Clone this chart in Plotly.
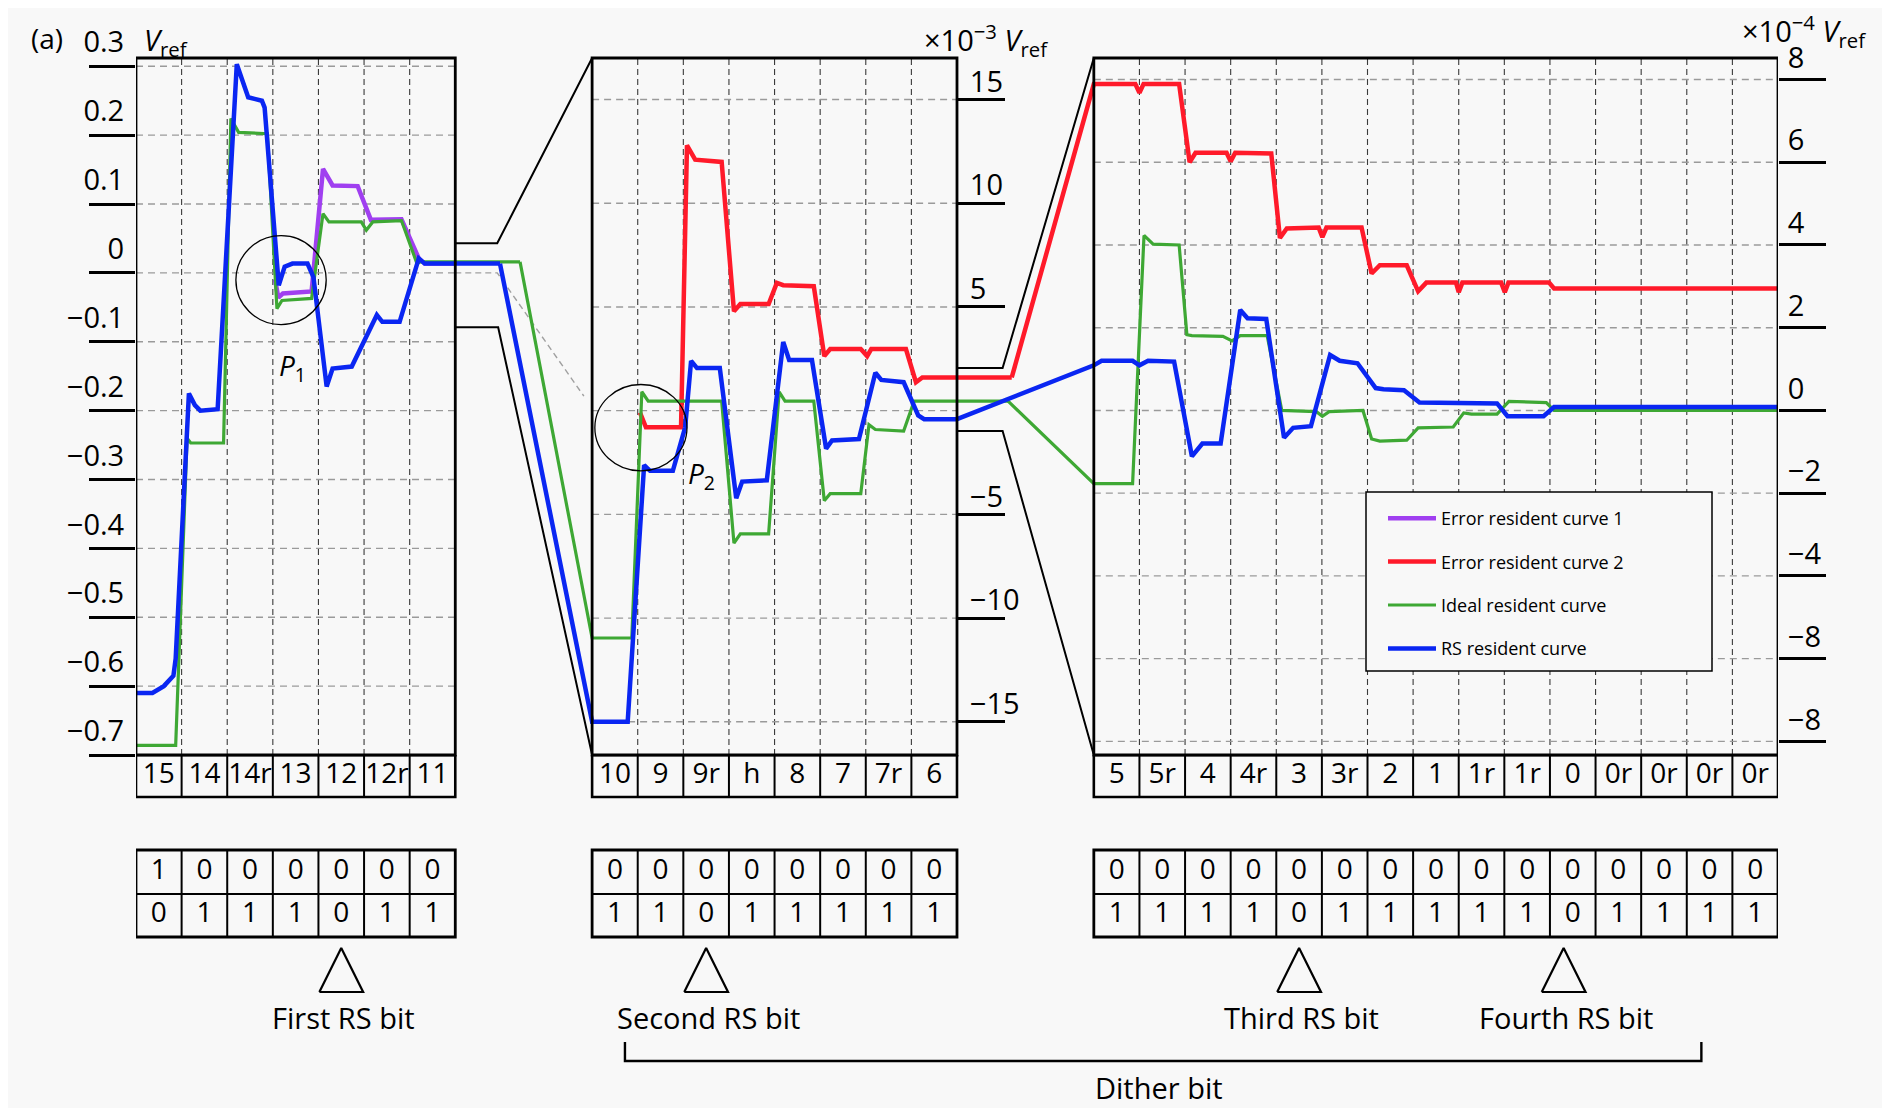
import plotly.graph_objects as go

# the page adds an 8 px body margin, so the figure is 8 px smaller and all
# page positions below are shifted by that amount
OFF = 8
W, H = 1890 - OFF, 1108 - OFF
FONT = "Open Sans, Noto Sans, sans-serif"

# ---------------- data ----------------
# column labels under the three panels (x axis is in "column" units)
p1_labels = ['15', '14', '14r', '13', '12', '12r', '11']
p2_labels = ['10', '9', '9r', 'h', '8', '7', '7r', '6']
p3_labels = ['5', '5r', '4', '4r', '3', '3r', '2', '1', '1r', '1r', '0', '0r', '0r', '0r', '0r']
panel_start = [0, 10, 21]

# P / N rows of table (b)
p_bits = [[1, 0, 0, 0, 0, 0, 0],
          [0, 0, 0, 0, 0, 0, 0, 0],
          [0, 0, 0, 0, 0, 0, 0, 0, 0, 0, 0, 0, 0, 0, 0]]
n_bits = [[0, 1, 1, 1, 0, 1, 1],
          [1, 1, 0, 1, 1, 1, 1, 1],
          [1, 1, 1, 1, 0, 1, 1, 1, 1, 1, 0, 1, 1, 1, 1]]

rs_bit_cols = [4.5, 12.5, 25.5, 31.3]
rs_bit_names = ['First RS bit', 'Second RS bit', 'Third RS bit', 'Fourth RS bit']

# y ranges of the panels: Vref, x1e-3 Vref, x1e-4 Vref
r1 = [-0.70, 0.312]
r2 = [-16.6, 17.0]
r3 = [-8.33, 8.52]

p1_ticks = [0.3, 0.2, 0.1, 0, -0.1, -0.2, -0.3, -0.4, -0.5, -0.6, -0.7]
p1_ticktext = ['0.3', '0.2', '0.1', '0', '\u22120.1', '\u22120.2', '\u22120.3', '\u22120.4', '\u22120.5', '\u22120.6', '\u22120.7']
p2_ticks = [15, 10, 5, -5, -10, -15]
p2_ticktext = ['15', '10', '5', '\u22125', '\u221210', '\u221215']
p2_grid = [15, 10, 5, 0, -5, -10, -15]
p3_ticks = [8, 6, 4, 2, 0, -2, -4, -6, -8]
p3_ticktext = ['8', '6', '4', '2', '0', '\u22122', '\u22124', '\u22128', '\u22128']

# panel 1 curves (Vref)
blue_p1_x = [0, 0.36, 0.61, 0.82, 0.87, 1.16, 1.29, 1.41, 1.79, 2.21, 2.46, 2.76, 2.82, 3.13, 3.26, 3.43, 3.76, 3.89, 4.18, 4.31, 4.73, 5.28, 5.40, 5.78, 6.20, 6.33, 7.0, 7.98]
blue_p1_y = [-0.61, -0.61, -0.60, -0.585, -0.56, -0.175, -0.192, -0.20, -0.198, 0.303, 0.255, 0.250, 0.240, -0.018, 0.009, 0.0135, 0.0135, -0.006, -0.165, -0.139, -0.136, -0.061, -0.071, -0.071, 0.021, 0.0135, 0.0135, 0.0135]
green_p1_x = [0, 0.87, 1.12, 1.20, 1.92, 2.08, 2.25, 2.88, 3.09, 3.20, 3.85, 4.10, 4.23, 4.94, 5.05, 5.19, 5.82, 6.16, 6.24, 7.0, 8.42]
green_p1_y = [-0.686, -0.686, -0.240, -0.247, -0.247, 0.224, 0.204, 0.202, -0.052, -0.040, -0.037, 0.086, 0.074, 0.074, 0.062, 0.074, 0.076, 0.0135, 0.016, 0.016, 0.016]
purple_p1_x = [3.05, 3.12, 3.22, 3.85, 4.10, 4.31, 4.86, 5.15, 5.82, 6.20, 6.33, 7.0]
purple_p1_y = [-0.01, -0.036, -0.030, -0.027, 0.151, 0.127, 0.126, 0.077, 0.078, 0.021, 0.0135, 0.0135]

# panel 2 curves (x1e-3 Vref)
blue_p2_x = [10.0, 10.78, 11.14, 11.27, 11.77, 12.04, 12.17, 12.30, 12.80, 13.16, 13.29, 13.83, 14.19, 14.32, 14.82, 15.13, 15.26, 15.85, 16.21, 16.34, 16.83, 17.15, 17.28, 18.0]
blue_p2_y = [-15.0, -15.0, -2.63, -2.9, -2.9, -0.8, 2.4, 2.05, 2.05, -4.22, -3.42, -3.36, 3.31, 2.44, 2.44, -1.83, -1.44, -1.37, 1.83, 1.48, 1.37, -0.23, -0.41, -0.41]
green_p2_x = [10.0, 10.87, 11.09, 11.23, 12.84, 13.11, 13.25, 13.87, 14.10, 14.23, 14.86, 15.09, 15.22, 15.89, 16.07, 16.21, 16.83, 17.06, 18.0, 19.12]
green_p2_y = [-10.96, -10.96, 0.91, 0.46, 0.46, -6.39, -5.94, -5.94, 0.91, 0.46, 0.46, -4.34, -4.0, -4.0, -0.68, -0.91, -0.98, 0.46, 0.46, 0.46]
red_p2_x = [11.05, 11.09, 11.18, 11.95, 12.08, 12.26, 12.84, 13.11, 13.25, 13.87, 14.05, 14.19, 14.86, 15.09, 15.22, 15.89, 16.03, 16.12, 16.88, 17.10, 17.24, 18.0, 19.2]
red_p2_y = [-0.1, -0.34, -0.8, -0.8, 12.79, 12.1, 11.99, 4.79, 5.14, 5.14, 6.16, 6.05, 6.0, 2.63, 2.97, 2.97, 2.63, 2.97, 2.97, 1.37, 1.6, 1.6, 1.6]

# panel 3 curves (x1e-4 Vref)
red_p3_x = [21.0, 21.91, 22.0, 22.09, 22.87, 23.10, 23.23, 23.91, 24.0, 24.10, 24.89, 25.08, 25.23, 25.93, 26.01, 26.10, 26.87, 27.09, 27.27, 27.86, 28.11, 28.29, 28.94, 29.0, 29.08, 29.93, 30.01, 30.09, 30.98, 31.09, 36.0]
red_p3_y = [7.89, 7.89, 7.68, 7.89, 7.89, 6.0, 6.23, 6.23, 6.02, 6.23, 6.21, 4.17, 4.40, 4.42, 4.19, 4.42, 4.42, 3.31, 3.51, 3.51, 2.88, 3.09, 3.09, 2.86, 3.09, 3.09, 2.86, 3.09, 3.09, 2.95, 2.95]
green_p3_x = [21.0, 21.85, 22.10, 22.30, 22.87, 23.04, 23.15, 23.83, 24.03, 24.21, 24.80, 25.12, 25.88, 26.01, 26.16, 26.90, 27.09, 27.27, 27.86, 28.11, 28.88, 29.11, 29.28, 29.84, 30.10, 30.92, 31.09, 36.0]
green_p3_y = [-1.77, -1.77, 4.23, 4.02, 4.0, 1.83, 1.81, 1.79, 1.68, 1.81, 1.81, 0.0, -0.03, -0.14, -0.03, 0.0, -0.69, -0.74, -0.72, -0.42, -0.40, -0.06, -0.09, -0.09, 0.22, 0.19, 0.0, 0.0]
blue_p3_x = [21.0, 21.17, 21.85, 22.0, 22.19, 22.76, 23.15, 23.38, 23.78, 24.21, 24.37, 24.78, 25.17, 25.37, 25.76, 26.18, 26.39, 26.78, 27.18, 27.35, 27.80, 28.14, 29.84, 30.07, 30.86, 31.09, 36.0]
blue_p3_y = [1.09, 1.2, 1.2, 1.09, 1.2, 1.18, -1.11, -0.8, -0.8, 2.43, 2.23, 2.21, -0.66, -0.42, -0.38, 1.34, 1.2, 1.14, 0.54, 0.51, 0.49, 0.19, 0.17, -0.14, -0.14, 0.08, 0.08]

PURPLE = '#a03ff0'
RED = '#ff1a2a'
GREEN = '#3ea834'
BLUE = '#0a26f2'
BG = '#f8f8f8'


def px(x):
    return (x - OFF) / W


def py(y):
    return 1 - (y - OFF) / H


def to_axis(v, src, dst):
    # same height on the page, expressed in another panel's units
    return dst[0] + (v - src[0]) * (dst[1] - dst[0]) / (src[1] - src[0])


# ---------------- geometry ----------------
x_dom = [px(136), px(1778)]
y_dom = [py(755), py(58)]
tab_dom = [0, py(755)]      # table axis: 1 unit = 1 px below the panels
panels = [(0, 7), (10, 18), (21, 36)]

fig = go.Figure()


def add_line(x, y, color, width, yaxis, name, show=False, rank=1):
    fig.add_trace(go.Scatter(x=x, y=y, mode='lines', yaxis=yaxis, name=name,
                             line=dict(color=color, width=width),
                             legendgroup=name, showlegend=show, legendrank=rank,
                             hoverinfo='skip'))


# panel 1
add_line(purple_p1_x, purple_p1_y, PURPLE, 4.5, 'y', 'Error resident curve 1', True, 1)
add_line(green_p1_x, green_p1_y, GREEN, 3.2, 'y', 'Ideal resident curve')
add_line(blue_p1_x, blue_p1_y, BLUE, 4.5, 'y', 'RS resident curve')

# panel 2 (with the diagonal from panel 1 across the gap)
add_line(red_p2_x, red_p2_y, RED, 4.5, 'y2', 'Error resident curve 2')
add_line([green_p1_x[-1]] + green_p2_x, [to_axis(green_p1_y[-1], r1, r2)] + green_p2_y,
         GREEN, 3.2, 'y2', 'Ideal resident curve')
add_line([blue_p1_x[-1]] + blue_p2_x, [to_axis(blue_p1_y[-1], r1, r2)] + blue_p2_y,
         BLUE, 4.5, 'y2', 'RS resident curve')

# panel 3 (with the diagonal from panel 2 across the gap)
add_line([red_p2_x[-1]] + red_p3_x, [to_axis(red_p2_y[-1], r2, r3)] + red_p3_y,
         RED, 4.5, 'y3', 'Error resident curve 2', True, 2)
add_line([green_p2_x[-1]] + green_p3_x, [to_axis(green_p2_y[-1], r2, r3)] + green_p3_y,
         GREEN, 3.2, 'y3', 'Ideal resident curve', True, 3)
add_line([blue_p2_x[-1]] + blue_p3_x, [to_axis(blue_p2_y[-1], r2, r3)] + blue_p3_y,
         BLUE, 4.5, 'y3', 'RS resident curve', True, 4)

# column labels and table (b) digits
all_labels = [p1_labels, p2_labels, p3_labels]
lab_x, lab_t, bit_x, bit_y, bit_t = [], [], [], [], []
for k in range(3):
    for i, t in enumerate(all_labels[k]):
        cx = panel_start[k] + i + 0.5
        lab_x.append(cx)
        lab_t.append(t)
        bit_x += [cx, cx]
        bit_y += [-117, -160]
        bit_t += [str(p_bits[k][i]), str(n_bits[k][i])]

fig.add_trace(go.Scatter(x=lab_x, y=[-21] * len(lab_x), text=lab_t, mode='text', yaxis='y4',
                         textfont=dict(family=FONT, size=28, color='black'),
                         showlegend=False, hoverinfo='skip'))
fig.add_trace(go.Scatter(x=bit_x, y=bit_y, text=bit_t, mode='text', yaxis='y4',
                         textfont=dict(family=FONT, size=28, color='black'),
                         showlegend=False, hoverinfo='skip'))

# RS bit triangles
tri_x, tri_y = [], []
for c in rs_bit_cols:
    tri_x += [c - 0.48, c + 0.48, c, c - 0.48, None]
    tri_y += [-237, -237, -193, -237, None]
fig.add_trace(go.Scatter(x=tri_x, y=tri_y, mode='lines', yaxis='y4',
                         line=dict(color='black', width=2.2),
                         showlegend=False, hoverinfo='skip'))

# ---------------- shapes ----------------
shapes = []
grid_dash = dict(color='#9a9a9a', width=1.4, dash='7px,5px')
vgrid = dict(color='#3a3a3a', width=1.1, dash='6px,4px')

for (a, b), yr, vals in zip(panels, ['y', 'y2', 'y3'], [p1_ticks[:-1], p2_grid, p3_ticks]):
    for v in vals:
        shapes.append(dict(type='line', xref='x', yref=yr, x0=a, x1=b, y0=v, y1=v,
                           line=grid_dash, layer='below'))
    for c in range(a + 1, b):
        shapes.append(dict(type='line', xref='x', yref='paper', x0=c, x1=c,
                           y0=y_dom[0], y1=y_dom[1], line=vgrid, layer='below'))
    # panel frame
    shapes.append(dict(type='rect', xref='x', yref='paper', x0=a, x1=b, y0=y_dom[0], y1=y_dom[1],
                       line=dict(color='black', width=2.8)))
    # column label row
    shapes.append(dict(type='rect', xref='x', yref='y4', x0=a, x1=b, y0=-42, y1=0,
                       line=dict(color='black', width=2.6)))
    # table (b)
    shapes.append(dict(type='rect', xref='x', yref='y4', x0=a, x1=b, y0=-182, y1=-95,
                       line=dict(color='black', width=2.8)))
    shapes.append(dict(type='line', xref='x', yref='y4', x0=a, x1=b, y0=-139, y1=-139,
                       line=dict(color='black', width=2.2)))
    for c in range(a + 1, b):
        shapes.append(dict(type='line', xref='x', yref='y4', x0=c, x1=c, y0=-42, y1=0,
                           line=dict(color='black', width=2)))
        shapes.append(dict(type='line', xref='x', yref='y4', x0=c, x1=c, y0=-182, y1=-95,
                           line=dict(color='black', width=2)))

# zoom connectors
blk = dict(color='black', width=2)
shapes.append(dict(type='path', xref='x', yref='y', line=blk,
                   path=f'M 7,0.043 L 7.92,0.043 L 10,{r1[1]}'))
shapes.append(dict(type='path', xref='x', yref='y', line=blk,
                   path=f'M 7,-0.079 L 7.94,-0.079 L 10,{r1[0]}'))
shapes.append(dict(type='path', xref='x', yref='y2', line=blk,
                   path=f'M 18,2.05 L 19.0,2.05 L 21,{r2[1]}'))
shapes.append(dict(type='path', xref='x', yref='y2', line=blk,
                   path=f'M 18,-0.98 L 19.0,-0.98 L 21,{r2[0]}'))
shapes.append(dict(type='path', xref='x', yref='y', layer='below',
                   line=dict(color='#a0a0a0', width=1.4, dash='6px,4px'),
                   path='M 7,0 L 7.92,0 L 9.82,-0.179'))

# P1 / P2 circles
shapes.append(dict(type='circle', xref='x', yref='y', x0=2.19, x1=4.17, y0=-0.075, y1=0.054,
                   line=dict(color='black', width=1.3)))
shapes.append(dict(type='circle', xref='x', yref='y2', x0=10.06, x1=12.08, y0=-2.9, y1=1.26,
                   line=dict(color='black', width=1.3)))

# dither bracket
shapes.append(dict(type='path', xref='x', yref='y4', line=dict(color='black', width=2.4),
                   path='M 10.72,-287 L 10.72,-306 L 34.32,-306 L 34.32,-287'))

# legend frame (the legend itself sits inside it)
shapes.append(dict(type='rect', xref='paper', yref='paper', x0=px(1366), x1=px(1712),
                   y0=py(671), y1=py(492), fillcolor=BG, line=dict(color='black', width=1.5),
                   layer='above'))

# ---------------- annotations ----------------
ann = []


def note(x, y, text, xref='paper', yref='paper', xanchor='center', size=29):
    ann.append(dict(xref=xref, yref=yref, x=x, y=y, text=text, showarrow=False,
                    xanchor=xanchor, yanchor='middle',
                    font=dict(family=FONT, size=size, color='black')))


note(px(29), py(38), '(a)', xanchor='left', size=28)
note(px(142), py(41), '<i>V</i><sub>ref</sub>', xanchor='left')
note(px(1050), py(40), '\u00d710<sup>\u22123</sup> <i>V</i><sub>ref</sub>', xanchor='right')
note(px(1868), py(31), '\u00d710<sup>\u22124</sup> <i>V</i><sub>ref</sub>', xanchor='right')
note(3.44, -0.136, '<i>P</i><sub>1</sub>', 'x', 'y', size=28)
note(12.39, -3.08, '<i>P</i><sub>2</sub>', 'x', 'y2', size=28)
note(-2.0, -110, '(b)', 'x', 'y4', size=28)
note(-0.75, -117, 'P', 'x', 'y4', size=28)
note(-0.75, -161, 'N', 'x', 'y4', size=28)
for c, t in zip(rs_bit_cols, rs_bit_names):
    note(c + 0.05, -262, t, 'x', 'y4')
note(22.43, -332, 'Dither bit', 'x', 'y4')

# ---------------- layout ----------------
tick_common = dict(ticks='outside', tickwidth=2.6, tickcolor='black', showgrid=False,
                   zeroline=False, showline=False, automargin=False,
                   tickfont=dict(family=FONT, size=29, color='black'))

fig.update_layout(
    width=W, height=H,
    margin=dict(l=0, r=0, t=0, b=0),
    paper_bgcolor=BG, plot_bgcolor=BG,
    font=dict(family=FONT, color='black'),
    xaxis=dict(domain=x_dom, range=[0, 36], anchor='y', visible=False),
    yaxis=dict(domain=y_dom, range=r1, anchor='x', side='left',
               tickvals=p1_ticks, ticktext=p1_ticktext, ticklen=46,
               ticklabelshift=-24, ticklabelstandoff=-41, **tick_common),
    yaxis2=dict(domain=y_dom, range=r2, overlaying='y', anchor='free', position=px(957),
                side='right', tickvals=p2_ticks, ticktext=p2_ticktext, ticklen=47,
                ticklabelshift=-18, ticklabelstandoff=-41, **tick_common),
    yaxis3=dict(domain=y_dom, range=r3, overlaying='y', anchor='free', position=px(1778),
                side='right', tickvals=p3_ticks, ticktext=p3_ticktext, ticklen=47,
                ticklabelshift=-22, ticklabelstandoff=-44, **tick_common),
    yaxis4=dict(domain=tab_dom, range=[-353, 0], anchor='x', visible=False),
    legend=dict(x=px(1383), y=py(500), xanchor='left', yanchor='top',
                bgcolor='rgba(0,0,0,0)', borderwidth=0,
                font=dict(family=FONT, size=18, color='black'),
                traceorder='grouped', tracegroupgap=17, itemwidth=48),
    shapes=shapes,
    annotations=ann,
)

fig.write_html("out.html")
